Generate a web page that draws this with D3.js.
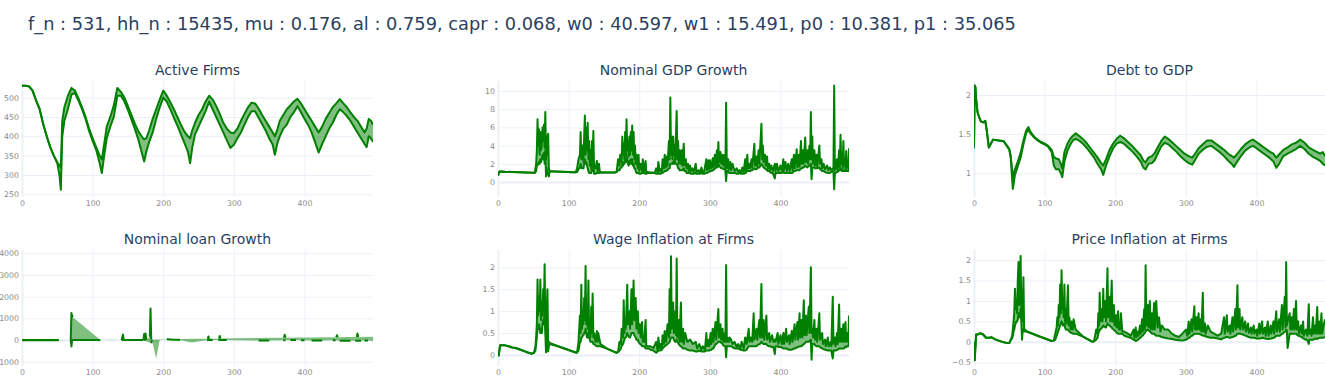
<!DOCTYPE html>
<html><head><meta charset="utf-8">
<script src="https://cdn.jsdelivr.net/npm/d3@7"></script>
<style>body{margin:0;background:#fff;} svg{display:block;}</style>
</head><body><svg id="c" width="1325" height="386"></svg>
<script>
const mainTitle = "f_n : 531, hh_n : 15435, mu : 0.176, al : 0.759, capr : 0.068, w0 : 40.597, w1 : 15.491, p0 : 10.381, p1 : 35.065";
const panelTitles = ["Active Firms","Nominal GDP Growth","Debt to GDP","Nominal loan Growth","Wage Inflation at Firms","Price Inflation at Firms"];
const xTicks = [0,100,200,300,400];
const firmsTicks = [250,300,350,400,450,500];
const gdpTicks = [0,2,4,6,8,10];
const debtTicks = [1,1.5,2];
const loanTicks = [-1000,0,1000,2000,3000,4000];
const wageTicks = [0,0.5,1,1.5,2];
const priceTicks = [-0.5,0,0.5,1,1.5,2];

// Active Firms
const firmsT = [0,5,10,15,20,25,30,35,40,45,50,53,55,57,60,65,70,75,80,85,90,95,100,105,110,113,116,120,125,130,135,140,145,150,155,160,165,170,173,176,180,185,190,195,200,205,210,215,220,225,230,235,238,241,245,250,255,260,265,270,275,280,285,290,295,300,305,310,315,320,325,330,335,340,345,350,355,358,362,365,370,375,380,385,390,395,400,405,410,415,420,425,430,435,440,445,450,455,460,465,470,475,480,485,488,491,494,497];
const firmsHi = [531,531,529,518,492,470,432,400,372,350,333,325,320,440,475,505,525,518,498,475,450,420,395,372,350,340,375,425,450,480,525,515,500,478,455,432,412,398,392,395,415,445,470,495,518,505,488,470,450,430,412,400,395,415,435,455,470,490,505,495,478,458,435,420,410,408,420,440,458,475,487,485,472,455,440,425,410,400,420,440,455,470,480,490,497,485,470,455,440,425,410,425,445,460,475,485,496,485,475,462,450,440,425,410,420,445,440,430];
const firmsLo = [531,531,529,518,492,470,432,400,372,350,330,300,262,400,440,470,508,512,492,470,445,414,388,365,330,305,345,395,425,450,505,505,490,468,443,418,390,355,335,360,385,410,445,475,500,490,470,448,428,405,383,360,330,370,405,425,445,465,490,470,450,430,410,390,370,378,395,410,430,450,465,465,448,432,415,395,378,352,385,400,420,430,450,462,478,462,445,430,410,385,358,380,400,420,435,455,470,462,452,440,425,410,395,380,372,400,395,385];

// Nominal GDP Growth
const gdpT = [0,2,10,20,30,40,50,
  52,54,55,56,57,58,59,60,61,62,63,64,65,66,67,68,69,70,71,72,73,
  75,80,90,100,105,
  110,112,114,116,117,118,120,121,122,123,124,125,126,127,128,129,130,131,132,133,134,135,136,138,140,141,143,144,146,
  150,160,165,
  168,170,172,173,175,176,177,178,179,180,181,182,183,184,185,186,187,188,189,190,191,192,193,194,195,196,198,199,200,202,204,205,207,209,210,212,215,
  218,222,224,226,227,229,230,232,233,235,236,238,239,240,242,243,244,245,246,247,248,249,250,251,253,254,255,256,257,259,260,261,263,264,266,267,269,270,272,273,275,
  277,280,281,284,286,288,290,292,
  295,296,298,299,300,302,304,305,307,308,310,311,312,313,315,316,318,319,321,322,323,324,326,327,329,330,332,
  335,338,340,342,344,346,348,
  350,351,353,354,356,357,359,360,363,364,366,367,369,370,373,374,375,376,378,379,381,382,384,385,387,389,392,393,395,397,
  400,402,404,405,407,409,411,413,416,417,419,420,423,424,426,427,429,430,432,433,435,436,438,439,441,442,443,444,445,446,448,449,451,452,455,456,458,459,461,463,466,468,470,472,474,475,
  476,477,478,480,481,483,484,485,486,487,488,489,490,491,492,493,494,495,496,497];
const gdpHi = [0.7,1.15,1.12,1.1,1.08,1.05,1.02,
  1.0,2.0,3.4,6.9,4.0,5.8,3.0,5.5,3.5,4.0,6.0,4.5,6.3,3.8,7.7,2.5,5.0,3.0,5.3,1.5,1.2,
  1.18,1.16,1.13,1.1,1.08,
  1.06,1.5,2.5,3.0,5.5,2.5,4.0,2.2,5.0,7.3,3.0,6.0,3.5,6.5,2.5,4.5,1.8,3.5,1.5,4.5,2.0,5.6,1.5,1.5,2.3,1.2,2.0,1.2,1.05,
  1.05,1.03,1.05,
  1.1,2.5,1.8,3.0,2.2,5.0,3.0,4.2,2.5,5.5,3.0,6.9,3.5,4.5,2.8,5.0,3.0,5.5,3.5,6.2,3.0,5.5,2.5,4.0,2.0,3.0,1.5,3.0,1.2,2.0,1.2,2.5,1.2,2.3,1.1,1.1,1.05,
  1.05,1.0,1.5,1.1,2.2,1.2,1.4,1.2,2.5,1.5,3.0,1.6,2.8,1.8,4.5,2.5,9.3,3.0,5.0,2.5,5.0,3.0,4.0,2.5,7.8,2.5,4.5,2.0,3.5,2.0,3.5,1.8,4.2,1.8,2.5,1.5,2.0,1.2,1.8,1.2,1.5,
  1.1,2.0,1.1,1.3,1.0,1.6,1.0,1.2,
  2.5,1.3,2.4,1.4,2.4,1.5,2.6,1.6,3.0,1.8,3.5,2.0,4.4,2.2,3.3,2.0,3.0,1.8,3.0,1.5,8.7,1.5,2.5,1.4,2.2,1.3,2.0,
  1.2,1.5,1.1,1.3,1.0,1.6,1.1,
  2.5,1.3,3.0,1.5,2.0,1.5,2.5,1.6,4.2,1.8,2.8,1.7,3.5,2.0,6.4,2.5,4.0,2.2,3.0,1.8,2.8,1.5,2.0,1.3,1.8,1.2,2.0,1.2,2.0,1.2,
  1.8,1.2,2.5,1.3,2.2,1.2,2.0,1.2,2.5,1.3,3.0,1.5,3.6,1.6,3.0,1.7,4.5,2.0,3.5,2.0,4.9,2.2,3.5,2.0,4.0,2.5,7.7,2.5,5.0,2.0,3.5,1.8,3.0,1.7,4.0,2.0,2.5,1.5,2.0,1.4,1.8,1.3,1.6,1.3,1.5,1.4,
  10.6,1.3,1.5,2.5,1.3,3.5,1.6,5.2,2.0,3.0,1.5,4.5,1.8,2.5,1.4,3.4,1.6,2.0,1.5,3.7];
const gdpLo = [0.7,1.15,1.12,1.1,1.08,1.05,1.02,
  1.0,1.2,1.8,2.0,1.9,2.2,2.0,2.5,2.2,2.6,3.0,2.5,3.2,2.0,3.5,0.6,1.5,0.8,1.0,0.6,1.1,
  1.18,1.16,1.13,1.1,1.08,
  1.06,1.1,1.4,1.6,2.0,1.5,1.6,1.5,2.0,2.5,2.0,2.2,1.8,1.5,1.2,1.0,1.0,1.0,1.0,1.5,1.2,2.0,0.9,0.9,1.0,1.0,1.0,1.0,1.05,
  1.05,1.03,1.05,
  1.1,1.3,1.3,1.5,1.6,2.0,1.8,2.2,2.0,2.5,2.2,3.0,2.5,2.0,1.8,2.3,2.0,2.5,2.0,2.5,1.8,2.0,1.5,1.5,1.2,1.0,1.0,1.0,0.9,0.9,1.0,1.0,1.0,0.9,0.9,1.0,1.0,
  1.0,1.0,0.9,0.9,1.0,0.9,0.9,1.0,1.0,1.1,1.2,1.2,1.3,1.3,1.5,1.5,2.0,2.0,2.0,2.0,2.2,2.0,2.5,2.0,2.0,1.8,1.5,1.5,1.3,1.3,1.3,1.3,1.5,1.2,1.2,1.0,1.0,1.0,1.0,0.9,0.9,
  0.9,1.0,0.9,0.9,0.9,1.0,0.9,0.9,
  1.0,1.0,1.1,1.1,1.2,1.2,1.3,1.3,1.5,1.5,1.8,1.6,2.0,1.8,1.6,1.5,1.5,1.4,1.5,1.2,0.1,1.2,1.2,1.0,1.0,1.0,1.0,
  1.0,0.9,0.9,1.0,0.9,0.9,0.9,
  1.0,1.0,1.3,1.2,1.2,1.2,1.3,1.3,1.5,1.4,1.4,1.5,1.6,1.6,2.0,1.8,1.8,1.6,1.5,1.4,1.3,1.2,1.2,1.1,1.0,1.0,0.4,1.0,1.0,1.0,
  1.0,1.0,1.1,1.0,1.0,1.0,1.0,1.0,1.0,1.0,1.2,1.2,1.3,1.3,1.3,1.3,1.5,1.5,1.6,1.6,1.8,1.7,1.6,1.7,1.8,1.9,2.0,0.3,1.5,1.6,1.6,1.5,1.5,1.5,1.6,1.4,1.3,1.2,1.2,1.1,1.0,1.0,1.0,1.1,1.2,1.1,
  -0.8,1.0,1.0,1.1,1.1,1.3,1.3,1.5,1.3,1.2,1.2,1.3,1.2,1.2,1.2,1.3,1.2,1.2,1.2,1.5];

// Debt to GDP
const debtT = [0,1,2,3,5,8,10,13,16,18,21,24,27,35,42,47,50,52,55,58,62,66,70,74,77,80,85,90,95,100,105,110,113,116,120,123,125,128,132,136,140,144,150,155,160,165,170,175,180,183,187,192,197,202,207,212,218,224,230,236,240,243,247,252,256,260,265,270,275,280,286,292,298,304,309,313,318,324,330,336,342,348,354,360,365,368,372,378,384,390,395,400,406,412,418,424,428,432,438,444,450,456,462,468,474,480,486,490,494,497];
const debtHi = [1.32,2.12,2.1,1.95,1.78,1.70,1.66,1.65,1.67,1.55,1.33,1.38,1.43,1.42,1.41,1.35,1.31,1.22,0.95,1.05,1.15,1.26,1.42,1.55,1.59,1.53,1.47,1.43,1.40,1.38,1.35,1.30,1.21,1.19,1.18,1.12,1.06,1.27,1.37,1.44,1.48,1.51,1.47,1.43,1.38,1.32,1.26,1.20,1.13,1.10,1.18,1.30,1.38,1.44,1.48,1.45,1.40,1.35,1.29,1.23,1.16,1.14,1.20,1.22,1.26,1.33,1.41,1.47,1.44,1.40,1.35,1.30,1.25,1.22,1.20,1.25,1.32,1.37,1.42,1.42,1.38,1.34,1.30,1.25,1.22,1.20,1.24,1.31,1.37,1.41,1.43,1.40,1.36,1.32,1.28,1.25,1.20,1.24,1.30,1.33,1.37,1.39,1.43,1.39,1.33,1.30,1.27,1.25,1.27,1.22];
const debtLo = [1.32,2.12,2.1,1.95,1.78,1.70,1.66,1.65,1.67,1.55,1.33,1.38,1.43,1.42,1.41,1.34,1.30,1.20,0.80,0.98,1.09,1.20,1.37,1.52,1.55,1.51,1.46,1.42,1.39,1.37,1.34,1.27,1.10,1.05,1.05,1.00,0.95,1.15,1.28,1.36,1.42,1.44,1.41,1.37,1.32,1.26,1.20,1.12,1.05,0.98,1.10,1.22,1.32,1.38,1.40,1.38,1.33,1.28,1.22,1.15,1.07,1.05,1.12,1.13,1.17,1.25,1.34,1.39,1.37,1.33,1.28,1.22,1.17,1.13,1.11,1.17,1.25,1.30,1.34,1.35,1.31,1.27,1.22,1.16,1.12,1.08,1.14,1.22,1.29,1.33,1.35,1.32,1.28,1.24,1.20,1.15,1.07,1.12,1.22,1.25,1.28,1.31,1.35,1.31,1.25,1.21,1.18,1.16,1.12,1.10];

// Nominal loan Growth (null = gap)
const loanHiT = [0,13,26,39,52,53,69,70,71,72,73,111,112,126,127,141,143,144,145,160,161,172,173,174,175,176,177,181,182,183,184,196,197,206,207,208,225,226,245,246,263,264,265,266,279,280,281,282,300,301,330,331,352,353,371,372,373,374,390,391,410,411,432,433,445,446,447,448,460,461,474,475,476,477,497];
const loanHi = [0,0,0,0,0,null,0,1250,1100,1050,null,0,null,10,null,0,250,0,null,5,null,0,280,0,300,0,null,150,1450,20,null,20,null,50,40,null,45,null,60,null,60,160,70,null,60,180,70,null,80,null,90,null,100,null,100,240,100,null,110,null,120,null,125,null,130,220,130,null,135,null,140,300,140,null,150];
const loanLoT = [0,52,53,69,70,71,90,111,112,126,127,141,150,160,172,173,183,184,185,190,191,195,196,205,210,215,220,224,225,240,241,262,266,270,271,278,283,290,291,300,301,335,345,350,351,370,373,374,380,388,389,395,400,401,410,418,425,426,440,444,445,450,458,465,466,472,480,481,485,490,491,497];
const loanLo = [-10,-10,null,0,-300,0,0,0,null,-5,null,0,0,0,0,null,-150,0,null,-850,null,0,null,30,20,10,10,0,null,-120,null,0,0,0,null,0,0,0,null,-10,null,-20,-20,-20,null,-10,-10,null,0,0,null,-10,-10,null,-20,-20,-20,null,-10,-10,null,-40,-40,-40,null,-30,-30,null,-20,-20,null,-50];

// Wage Inflation at Firms
const wageT = [0,1,3,10,15,20,25,30,40,48,51,
  53,54,55,56,57,58,59,60,61,62,63,64,65,66,67,68,69,70,71,72,74,
  90,111,
  112,114,116,117,118,119,120,121,122,123,124,125,126,127,128,129,130,131,132,133,134,135,136,138,140,141,142,145,
  155,168,170,
  172,174,175,177,178,179,180,181,183,184,186,187,189,190,192,193,195,196,198,199,201,202,204,205,207,209,210,213,216,220,
  224,226,227,229,230,232,233,235,236,238,240,242,243,244,245,246,248,249,251,252,253,254,256,257,259,260,262,263,265,268,272,
  276,280,282,285,288,290,293,
  295,296,298,299,301,302,304,305,308,309,312,313,315,316,318,319,321,322,323,324,325,327,328,330,332,
  335,338,340,343,345,348,350,
  352,355,356,358,360,362,363,366,367,370,371,373,374,376,377,380,381,384,385,388,390,392,393,396,397,
  400,402,404,405,408,409,412,413,416,417,420,421,424,425,427,428,430,431,433,434,436,437,440,441,443,444,445,446,448,449,451,452,455,456,459,460,463,464,467,468,471,472,
  474,475,477,478,480,481,483,484,486,487,489,490,492,493,495,496,497];
const wageHi = [0,-0.01,0.22,0.22,0.20,0.17,0.16,0.13,0.07,0.03,0.05,
  0.2,0.4,0.7,1.72,0.9,1.3,1.0,1.72,0.8,1.2,0.9,1.5,1.0,2.07,0.8,0.4,1.0,1.5,0.3,0.3,0.27,
  0.17,0.05,
  0.06,0.3,0.9,0.5,1.6,0.6,1.0,0.7,1.3,0.8,2.03,0.7,1.1,0.6,1.7,0.5,0.8,0.4,1.1,0.5,1.4,0.4,0.5,0.3,0.55,0.3,0.5,0.25,
  0.14,0.05,0.07,
  0.3,0.25,0.6,0.4,1.25,0.5,0.8,0.6,1.6,0.7,1.0,0.6,1.5,0.7,1.7,0.8,1.3,0.6,1.0,0.5,0.7,0.4,0.75,0.3,0.3,0.8,0.2,0.2,0.2,0.16,
  0.3,0.1,0.4,0.15,0.25,0.15,0.45,0.25,0.55,0.3,0.7,0.4,1.5,0.5,2.25,0.6,1.2,0.5,1.0,0.45,2.2,0.4,0.8,0.3,1.2,0.3,0.6,0.25,0.5,0.3,0.35,
  0.25,0.3,0.15,0.25,0.12,0.2,0.12,
  0.5,0.2,0.35,0.2,0.5,0.25,0.6,0.3,0.75,0.35,1.05,0.4,0.7,0.35,0.6,0.3,0.5,0.3,2.05,0.3,0.4,0.3,0.4,0.35,0.25,
  0.3,0.18,0.25,0.15,0.3,0.15,0.4,
  0.25,0.6,0.3,0.4,0.3,0.95,0.35,0.6,0.35,0.8,0.4,1.62,0.4,0.8,0.35,0.9,0.35,0.5,0.3,0.45,0.3,0.35,0.3,0.5,0.25,
  0.45,0.25,0.5,0.25,0.6,0.3,0.45,0.25,0.55,0.3,0.7,0.35,0.75,0.35,0.95,0.4,0.8,0.4,1.25,0.45,0.9,0.45,1.1,0.5,2.0,0.5,0.6,0.4,0.8,0.35,0.6,0.3,0.95,0.35,0.5,0.25,0.35,0.2,0.4,0.2,0.3,0.2,
  1.33,0.25,0.4,0.2,0.5,0.25,1.15,0.3,0.6,0.3,0.7,0.3,0.75,0.3,0.5,0.3,0.9];
const wageLo = [0,-0.01,0.22,0.22,0.20,0.17,0.16,0.13,0.07,0.03,0.05,
  0.1,0.25,0.4,0.6,0.6,0.7,0.6,0.5,0.6,0.5,0.7,0.8,0.7,1.0,0.5,0.06,0.3,0.5,0.08,0.2,0.25,
  0.17,0.05,
  0.06,0.1,0.3,0.3,0.4,0.4,0.45,0.45,0.5,0.5,0.6,0.5,0.4,0.4,0.5,0.4,0.35,0.3,0.3,0.3,0.3,0.25,0.25,0.22,0.2,0.2,0.2,0.2,
  0.14,0.05,0.07,
  0.1,0.15,0.2,0.25,0.3,0.35,0.4,0.4,0.5,0.45,0.4,0.4,0.5,0.5,0.5,0.45,0.4,0.35,0.35,0.3,0.25,0.25,0.2,0.2,0.2,0.15,0.15,0.15,0.12,0.1,
  0.05,0.08,0.1,0.1,0.1,0.12,0.15,0.18,0.2,0.22,0.25,0.28,0.3,0.35,0.4,0.4,0.4,0.35,0.3,0.32,0.35,0.3,0.25,0.22,0.2,0.18,0.15,0.15,0.15,0.12,0.1,
  0.1,0.08,0.08,0.1,0.08,0.08,0.08,
  0.1,0.1,0.1,0.1,0.12,0.12,0.15,0.15,0.25,0.25,0.3,0.3,0.3,0.28,0.25,0.22,0.2,0.2,-0.05,0.2,0.2,0.2,0.2,0.2,0.18,
  0.15,0.15,0.15,0.12,0.12,0.1,0.1,
  0.12,0.2,0.2,0.2,0.2,0.2,0.2,0.2,0.22,0.25,0.25,0.3,0.28,0.25,0.25,0.25,0.22,0.2,0.2,0.18,0.18,0.02,0.2,0.2,0.18,
  0.18,0.17,0.15,0.15,0.15,0.14,0.12,0.12,0.12,0.13,0.15,0.15,0.18,0.18,0.2,0.2,0.2,0.22,0.25,0.26,0.3,0.3,0.3,0.32,0.35,-0.11,0.25,0.25,0.25,0.22,0.2,0.2,0.2,0.18,0.15,0.14,0.12,0.12,0.1,0.1,0.1,0.1,
  -0.08,0.1,0.1,0.1,0.12,0.12,0.15,0.15,0.15,0.15,0.15,0.15,0.2,0.18,0.2,0.2,0.3];

// Price Inflation at Firms
const priceT = [0,1,3,5,9,13,17,22,25,30,35,40,45,50,52,
  54,55,56,57,58,59,60,61,62,63,64,65,66,67,68,69,70,71,72,74,
  90,110,113,
  115,117,118,119,120,121,122,123,124,125,126,127,128,129,130,131,133,134,135,137,138,140,141,144,
  155,168,170,
  173,175,176,177,178,179,181,182,183,184,186,187,189,190,192,193,195,196,198,199,201,202,204,205,207,208,210,213,
  218,222,226,227,229,230,232,233,235,236,238,239,241,242,243,244,246,247,249,250,252,253,255,256,258,260,262,264,266,270,
  275,280,285,290,295,
  300,302,304,305,308,309,312,313,315,316,318,319,321,322,324,325,327,328,331,
  335,340,345,350,
  354,355,358,359,362,363,366,367,370,371,373,374,376,377,380,381,384,385,388,389,392,393,396,397,
  400,401,404,405,408,409,412,413,416,417,420,421,424,425,428,429,432,433,436,437,440,441,442,443,444,447,448,450,451,453,454,456,457,459,460,463,464,466,467,470,
  472,474,475,477,478,480,481,483,484,486,487,489,490,492,493,495,497];
const priceHi = [0,-0.45,0.18,0.18,0.21,0.18,0.1,0.1,0.11,0.06,0.03,0.0,-0.02,-0.03,0.05,
  0.15,0.3,0.5,0.7,1.3,0.8,1.0,0.7,1.5,1.95,0.9,1.2,2.1,0.8,0.5,0.9,1.58,0.3,0.3,0.27,
  0.15,0.02,0.03,
  0.2,0.35,0.6,0.4,0.9,0.6,1.4,0.7,1.75,0.8,1.0,0.6,1.4,0.5,0.8,0.45,1.38,0.4,0.6,0.3,0.5,0.3,0.55,0.3,
  0.12,0.0,0.02,
  0.3,0.2,0.7,0.4,1.2,0.5,0.8,0.5,1.3,0.6,1.0,0.5,1.8,0.6,1.1,0.5,1.5,0.5,0.9,0.4,0.65,0.35,0.75,0.3,0.3,0.7,0.25,0.25,
  0.2,0.15,0.3,0.1,0.35,0.12,0.25,0.15,0.4,0.2,0.55,0.25,0.8,0.3,1.87,0.4,0.9,0.35,1.0,0.3,0.7,0.3,0.95,0.3,1.0,0.35,0.6,0.25,0.4,0.3,
  0.3,0.2,0.15,0.12,0.2,
  0.3,0.15,0.5,0.2,0.55,0.25,0.87,0.3,0.6,0.3,0.7,0.3,0.55,0.25,1.2,0.25,0.45,0.2,0.4,
  0.25,0.2,0.15,0.2,
  0.6,0.2,0.65,0.25,0.4,0.2,0.6,0.25,0.8,0.3,1.38,0.35,0.8,0.3,0.6,0.3,0.5,0.25,0.45,0.22,0.35,0.2,0.4,0.2,
  0.3,0.15,0.45,0.2,0.5,0.2,0.35,0.15,0.5,0.15,0.4,0.2,0.5,0.2,0.75,0.25,0.55,0.25,0.9,0.3,1.1,0.35,1.95,0.4,0.5,0.7,0.3,0.6,0.3,0.8,0.3,1.0,0.3,0.5,0.2,0.4,0.2,0.5,0.15,0.3,
  0.15,0.92,0.2,0.3,0.15,0.6,0.2,0.4,0.2,0.85,0.2,0.5,0.2,0.7,0.2,0.4,0.55];
const priceLo = [0,-0.45,0.18,0.18,0.21,0.18,0.1,0.1,0.11,0.06,0.03,0.0,-0.02,-0.03,0.05,
  0.08,0.15,0.25,0.3,0.4,0.45,0.5,0.5,0.55,0.7,0.6,0.6,0.8,0.5,0.05,0.3,0.3,0.25,0.25,0.25,
  0.15,0.02,0.03,
  0.05,0.15,0.2,0.25,0.3,0.35,0.4,0.45,0.5,0.45,0.4,0.4,0.45,0.35,0.3,0.3,0.3,0.28,0.25,0.22,0.22,0.2,0.2,0.2,
  0.12,0.0,0.02,
  0.05,0.1,0.2,0.25,0.3,0.3,0.35,0.35,0.4,0.38,0.35,0.35,0.45,0.42,0.4,0.38,0.35,0.32,0.3,0.28,0.25,0.22,0.2,0.2,0.2,0.2,0.2,0.15,
  0.12,0.1,0.05,0.05,0.02,0.03,0.05,0.06,0.1,0.1,0.15,0.15,0.2,0.22,0.25,0.28,0.3,0.28,0.25,0.24,0.2,0.2,0.2,0.18,0.15,0.15,0.15,0.13,0.12,0.1,
  0.08,0.07,0.05,0.04,0.03,
  0.05,0.07,0.1,0.1,0.15,0.15,0.2,0.2,0.2,0.2,0.2,0.19,0.18,0.17,0.15,0.15,0.15,0.13,0.12,
  0.1,0.1,0.08,0.06,
  0.1,0.1,0.12,0.12,0.1,0.1,0.12,0.12,0.15,0.15,0.2,0.2,0.2,0.2,0.18,0.18,0.15,0.15,0.12,0.12,0.1,0.1,0.1,0.1,
  0.08,0.08,0.08,0.08,0.1,0.1,0.08,0.08,0.07,0.07,0.08,0.08,0.1,0.1,0.15,0.15,0.15,0.15,0.2,0.2,0.25,0.25,0.3,0.28,-0.15,0.2,0.2,0.2,0.2,0.2,0.2,0.2,0.18,0.15,0.15,0.12,0.12,0.08,0.08,0.05,
  0.05,-0.05,0.05,0.05,0.05,0.05,0.06,0.08,0.08,0.07,0.08,0.1,0.1,0.1,0.1,0.1,0.12];

// ---------------- drawing ----------------
const svg = d3.select("#c");
const FONT = "'DejaVu Sans', Verdana, sans-serif";
const xDomain = [0, 497];
const colX = [22, 498, 974], plotW = 351;
const rowY = [81, 250], plotH = 116;

const panels = [
  {title: panelTitles[0], col:0, row:0, hiT: firmsT, hi: firmsHi, loT: firmsT, lo: firmsLo, yDomain:[243,543], ticks: firmsTicks},
  {title: panelTitles[1], col:1, row:0, hiT: gdpT, hi: gdpHi, loT: gdpT, lo: gdpLo, yDomain:[-1.65,11.1], ticks: gdpTicks},
  {title: panelTitles[2], col:2, row:0, hiT: debtT, hi: debtHi, loT: debtT, lo: debtLo, yDomain:[0.697,2.179], ticks: debtTicks},
  {title: panelTitles[3], col:0, row:1, hiT: loanHiT, hi: loanHi, loT: loanLoT, lo: loanLo, yDomain:[-1200,4152], ticks: loanTicks},
  {title: panelTitles[4], col:1, row:1, hiT: wageT, hi: wageHi, loT: wageT, lo: wageLo, yDomain:[-0.251,2.395], ticks: wageTicks},
  {title: panelTitles[5], col:2, row:1, hiT: priceT, hi: priceHi, loT: priceT, lo: priceLo, yDomain:[-0.59,2.244], ticks: priceTicks}
];

svg.append("text").attr("x", 28).attr("y", 30)
  .attr("font-family", FONT).attr("font-size", 17.8).attr("fill", "#2a3f5f")
  .text(mainTitle);

const GRID = "#EBF0F8";
const TICKC = "#8a8a8a";
const fmt = d3.format("");

panels.forEach((p, i) => {
  const x0 = colX[p.col], y0 = rowY[p.row];
  const x = d3.scaleLinear().domain(xDomain).range([x0, x0 + plotW]);
  const y = d3.scaleLinear().domain(p.yDomain).range([y0 + plotH, y0]);

  const g = svg.append("g");

  const ya = g.append("g").attr("transform", `translate(${x0},0)`)
    .call(d3.axisLeft(y).tickValues(p.ticks).tickSize(-plotW).tickPadding(3).tickFormat(fmt));
  ya.select(".domain").remove();
  ya.selectAll(".tick line").attr("stroke", GRID).attr("stroke-width", d => d === 0 ? 2 : 1);
  ya.selectAll(".tick text").attr("fill", TICKC).attr("font-size", 7.8).attr("font-family", FONT);

  const xa = g.append("g").attr("transform", `translate(0,${y0 + plotH})`)
    .call(d3.axisBottom(x).tickValues(xTicks).tickSize(-plotH).tickPadding(3));
  xa.select(".domain").remove();
  xa.selectAll(".tick line").attr("stroke", GRID).attr("stroke-width", d => d === 0 ? 2 : 1);
  xa.selectAll(".tick text").attr("fill", TICKC).attr("font-size", 7.8).attr("font-family", FONT);

  const cid = "clip" + i;
  svg.append("clipPath").attr("id", cid).append("rect")
    .attr("x", x0).attr("y", y0).attr("width", plotW).attr("height", plotH);
  const tg = g.append("g").attr("clip-path", `url(#${cid})`);

  const hiPts = p.hiT.map((t, k) => ({t, v: p.hi[k]}));
  const loPts = p.loT.map((t, k) => ({t, v: p.lo[k]}));

  const poly = hiPts.filter(d => d.v !== null).concat(loPts.filter(d => d.v !== null).reverse());
  const polyLine = d3.line().x(d => x(d.t)).y(d => y(d.v));
  tg.append("path").attr("d", polyLine(poly) + "Z")
    .attr("fill", "rgba(0,128,0,0.5)").attr("stroke", "none");

  const line = d3.line().defined(d => d.v !== null).x(d => x(d.t)).y(d => y(d.v));
  [loPts, hiPts].forEach(pts => {
    tg.append("path").attr("d", line(pts))
      .attr("fill", "none").attr("stroke", "green").attr("stroke-width", 2)
      .attr("stroke-linejoin", "round").attr("stroke-linecap", "butt");
  });

  svg.append("text").attr("x", x0 + plotW / 2).attr("y", y0 - 6)
    .attr("text-anchor", "middle").attr("font-family", FONT).attr("font-size", 14)
    .attr("fill", "#2a3f5f").text(p.title);
});
</script>
</body></html>
